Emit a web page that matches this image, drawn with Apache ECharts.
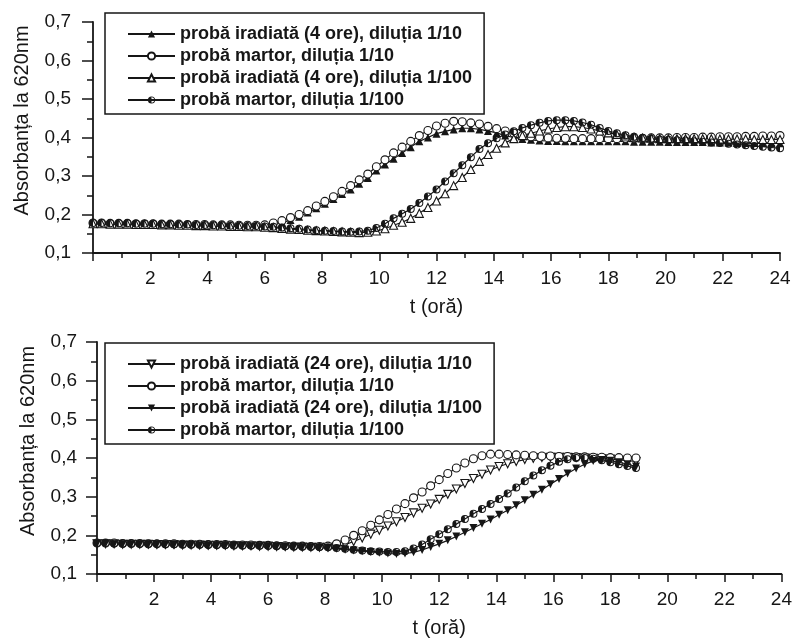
<!DOCTYPE html>
<html>
<head>
<meta charset="utf-8">
<script src="https://cdn.jsdelivr.net/npm/echarts@6/dist/echarts.min.js"></script>
<style>
  html, body { margin: 0; padding: 0; background: #fff; }
  #main { width: 795px; height: 640px; }
</style>
</head>
<body>
<div id="main"></div>
<script>
// pas de citire (ore)
var stepH = 0.3;

var yTickLabels = ['0,1', '0,2', '0,3', '0,4', '0,5', '0,6', '0,7'];

// ---- grafic sus (iradiere 4 ore) ----
var namesTop = ['probă iradiată (4 ore), diluția 1/10', 'probă martor, diluția 1/10',
  'probă iradiată (4 ore), diluția 1/100', 'probă martor, diluția 1/100'];

var topIrad10 = [
  0.176,0.176,0.176,0.175,0.175,0.175,0.174,0.174,0.174,0.173,
  0.173,0.173,0.172,0.172,0.172,0.171,0.171,0.171,0.170,0.170,
  0.171,0.174,0.178,0.186,0.194,0.205,0.216,0.228,0.240,0.253,
  0.265,0.280,0.295,0.314,0.330,0.345,0.360,0.375,0.390,0.400,
  0.410,0.416,0.421,0.424,0.424,0.421,0.417,0.412,0.405,0.400,
  0.396,0.394,0.392,0.391,0.391,0.390,0.390,0.390,0.390,0.390,
  0.390,0.390,0.390,0.389,0.389,0.389,0.389,0.388,0.388,0.388,
  0.388,0.388,0.387,0.387,0.387,0.386,0.386,0.386,0.386,0.385,
  0.385];
var topMartor10 = [
  0.178,0.178,0.177,0.177,0.177,0.176,0.176,0.176,0.175,0.175,
  0.175,0.174,0.174,0.174,0.173,0.173,0.173,0.172,0.172,0.172,
  0.173,0.178,0.184,0.192,0.200,0.210,0.222,0.234,0.246,0.260,
  0.275,0.290,0.305,0.324,0.342,0.360,0.375,0.390,0.405,0.418,
  0.430,0.437,0.442,0.441,0.438,0.435,0.429,0.423,0.417,0.411,
  0.405,0.402,0.400,0.399,0.398,0.398,0.397,0.397,0.397,0.397,
  0.397,0.397,0.398,0.398,0.398,0.399,0.399,0.399,0.400,0.400,
  0.400,0.401,0.401,0.402,0.402,0.402,0.403,0.403,0.404,0.404,
  0.405];
var topIrad100 = [
  0.176,0.176,0.175,0.175,0.175,0.174,0.174,0.174,0.173,0.173,
  0.172,0.172,0.171,0.171,0.170,0.170,0.169,0.169,0.168,0.168,
  0.167,0.166,0.164,0.162,0.161,0.159,0.158,0.157,0.156,0.155,
  0.154,0.153,0.154,0.157,0.163,0.172,0.180,0.190,0.203,0.218,
  0.235,0.254,0.275,0.296,0.317,0.338,0.356,0.372,0.386,0.397,
  0.405,0.411,0.417,0.422,0.426,0.428,0.428,0.426,0.422,0.417,
  0.412,0.408,0.404,0.401,0.399,0.398,0.397,0.397,0.397,0.397,
  0.397,0.397,0.397,0.396,0.396,0.396,0.396,0.395,0.395,0.395,
  0.395];
var topMartor100 = [
  0.178,0.178,0.177,0.177,0.177,0.176,0.176,0.176,0.175,0.175,
  0.174,0.174,0.173,0.173,0.172,0.172,0.171,0.171,0.170,0.170,
  0.169,0.168,0.166,0.164,0.163,0.161,0.159,0.158,0.157,0.156,
  0.155,0.156,0.158,0.165,0.176,0.190,0.202,0.214,0.230,0.247,
  0.265,0.286,0.307,0.328,0.349,0.370,0.385,0.398,0.408,0.416,
  0.425,0.432,0.438,0.443,0.445,0.445,0.443,0.439,0.433,0.425,
  0.417,0.411,0.406,0.402,0.399,0.397,0.395,0.394,0.393,0.392,
  0.390,0.389,0.387,0.386,0.384,0.382,0.380,0.378,0.376,0.374,
  0.372];

// ---- grafic jos (iradiere 24 ore) ----
var namesBot = ['probă iradiată (24 ore), diluția 1/10', 'probă martor, diluția 1/10',
  'probă iradiată (24 ore), diluția 1/100', 'probă martor, diluția 1/100'];

var botIrad10 = [
  0.178,0.178,0.178,0.177,0.177,0.177,0.177,0.176,0.176,0.176,
  0.175,0.175,0.175,0.174,0.174,0.174,0.173,0.173,0.173,0.172,
  0.172,0.171,0.171,0.170,0.170,0.169,0.169,0.169,0.171,0.176,
  0.184,0.193,0.203,0.213,0.224,0.235,0.246,0.258,0.270,0.281,
  0.293,0.306,0.320,0.334,0.347,0.358,0.369,0.378,0.385,0.391,
  0.396,0.399,0.401,0.402,0.402,0.402,0.401,0.400,0.399,0.398,
  0.397,0.395,0.393,0.391];
var botMartor10 = [
  0.180,0.180,0.180,0.179,0.179,0.179,0.178,0.178,0.178,0.178,
  0.177,0.177,0.177,0.176,0.176,0.176,0.175,0.175,0.175,0.174,
  0.174,0.173,0.173,0.172,0.172,0.171,0.171,0.172,0.178,0.188,
  0.200,0.212,0.226,0.240,0.254,0.268,0.282,0.297,0.312,0.328,
  0.344,0.360,0.374,0.387,0.398,0.406,0.410,0.410,0.409,0.408,
  0.407,0.406,0.405,0.405,0.404,0.404,0.403,0.403,0.402,0.402,
  0.401,0.401,0.400,0.400];
var botIrad100 = [
  0.178,0.178,0.177,0.177,0.177,0.177,0.176,0.176,0.176,0.175,
  0.175,0.175,0.174,0.174,0.174,0.173,0.173,0.173,0.172,0.172,
  0.171,0.171,0.170,0.170,0.169,0.169,0.168,0.167,0.165,0.163,
  0.161,0.159,0.157,0.155,0.153,0.152,0.153,0.156,0.162,0.170,
  0.178,0.187,0.197,0.208,0.219,0.230,0.241,0.253,0.265,0.278,
  0.291,0.305,0.318,0.332,0.346,0.360,0.373,0.384,0.392,0.395,
  0.393,0.389,0.384,0.378];
var botMartor100 = [
  0.180,0.180,0.179,0.179,0.179,0.178,0.178,0.178,0.177,0.177,
  0.177,0.176,0.176,0.176,0.175,0.175,0.175,0.174,0.174,0.174,
  0.173,0.173,0.172,0.172,0.171,0.171,0.170,0.169,0.167,0.165,
  0.163,0.161,0.159,0.158,0.157,0.157,0.159,0.166,0.176,0.190,
  0.203,0.216,0.229,0.242,0.256,0.268,0.281,0.294,0.308,0.324,
  0.340,0.355,0.368,0.380,0.390,0.397,0.400,0.400,0.398,0.394,
  0.389,0.384,0.379,0.374];

// cerc pe jumatate plin (martor 1/100)
var halfCircle = 'path://M10 0A10 10 0 1 1 10 20A10 10 0 1 1 10 0ZM10 2.5A7.5 7.5 0 1 0 10 17.5A7.5 7.5 0 1 0 10 2.5ZM10 20A10 10 0 0 1 10 0Z';

var ink = '#161616';
var fontF = '"Liberation Sans", Arial, sans-serif';

function pts(vals) {
  return vals.map(function (v, i) { return [+(i * stepH).toFixed(1), v]; });
}

function mkSeries(name, vals, idx, sym, filled, rot) {
  return {
    name: name,
    type: 'line',
    xAxisIndex: idx,
    yAxisIndex: idx,
    data: pts(vals),
    symbol: sym,
    symbolSize: 8,
    symbolRotate: rot || 0,
    lineStyle: { color: ink, width: 1.2 },
    itemStyle: { color: filled ? ink : '#fff', borderColor: ink, borderWidth: filled ? 0 : 1.1 }
  };
}

function xAx(idx) {
  return {
    type: 'value', gridIndex: idx, min: 0, max: 24, interval: 2,
    name: 't (oră)', nameLocation: 'middle', nameGap: 44,
    nameTextStyle: { fontFamily: fontF, fontSize: 20, color: ink },
    axisLine: { lineStyle: { color: ink, width: 1.8 } },
    axisTick: { length: 8, lineStyle: { color: ink, width: 1.5 } },
    minorTick: { show: true, splitNumber: 2, length: 5, lineStyle: { color: ink, width: 1.5 } },
    splitLine: { show: false },
    axisLabel: {
      margin: 16, fontFamily: fontF, fontSize: 19, color: ink,
      formatter: function (v) { return v === 0 ? '' : String(v); }
    }
  };
}

function yAx(idx, lblMargin, gap) {
  return {
    type: 'value', gridIndex: idx, min: 0.1, max: 0.7, interval: 0.1,
    name: 'Absorbanța la 620nm', nameLocation: 'middle', nameGap: gap,
    nameTextStyle: { fontFamily: fontF, fontSize: 20, color: ink, padding: [0, 0, 0, 34] },
    axisLine: { show: true, lineStyle: { color: ink, width: 1.8 } },
    axisTick: { show: true, length: 11, lineStyle: { color: ink, width: 1.5 } },
    minorTick: { show: true, splitNumber: 2, length: 6, lineStyle: { color: ink, width: 1.5 } },
    splitLine: { show: false },
    axisLabel: {
      margin: lblMargin, fontFamily: fontF, fontSize: 19, color: ink,
      formatter: function (v) { return yTickLabels[Math.round((v - 0.1) * 10)]; }
    }
  };
}

function mkLegend(names, top) {
  return {
    data: names, orient: 'vertical', left: 105, top: top,
    itemWidth: 47, itemHeight: 9, itemGap: 4,
    padding: [12, 12, 5, 22],
    borderColor: ink, borderWidth: 1.5, backgroundColor: '#fff',
    selectedMode: false,
    textStyle: { fontFamily: fontF, fontSize: 18, fontWeight: 'bold', color: ink }
  };
}

var myChart = echarts.init(document.getElementById('main'), null, { renderer: 'canvas' });

var option = {
  animation: false,
  backgroundColor: '#fff',
  grid: [
    { left: 93, right: 15, top: 22, height: 231 },
    { left: 97, right: 12, top: 342, height: 232 }
  ],
  xAxis: [xAx(0), xAx(1)],
  yAxis: [yAx(0, 22, 61), yAx(1, 20, 59)],
  legend: [mkLegend(namesTop, 13), mkLegend(namesBot, 343)],
  series: [
    mkSeries(namesTop[0], topIrad10, 0, 'triangle', true),
    mkSeries(namesTop[1], topMartor10, 0, 'circle', false),
    mkSeries(namesTop[2], topIrad100, 0, 'triangle', false),
    mkSeries(namesTop[3], topMartor100, 0, halfCircle, true),
    mkSeries(namesBot[0], botIrad10, 1, 'triangle', false, 180),
    mkSeries(namesBot[1], botMartor10, 1, 'circle', false),
    mkSeries(namesBot[2], botIrad100, 1, 'triangle', true, 180),
    mkSeries(namesBot[3], botMartor100, 1, halfCircle, true)
  ]
};
myChart.setOption(option);
</script>
</body>
</html>
